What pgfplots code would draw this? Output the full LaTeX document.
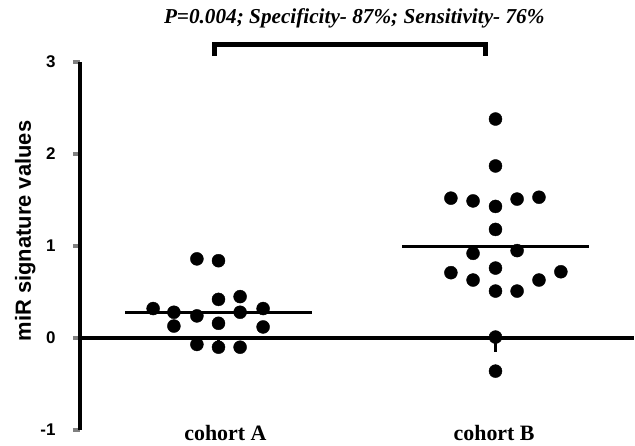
\documentclass[border=0pt]{standalone}
\usepackage{pgfplots}
\pgfplotsset{compat=1.18}
\usepackage{fontspec}
\setmainfont{Liberation Serif}
\setsansfont{Liberation Sans}

\begin{document}
\begin{tikzpicture}
\begin{axis}[
    scale only axis,
    width=554bp, height=368bp,
    xmin=-0.5, xmax=1.5,
    ymin=-1, ymax=3,
    axis x line=none,
    axis y line=left,
    y axis line style={-, line width=4bp},
    ytick={-1,0,1,2,3},
    yticklabels={-1,0,1,2,3},
    tick align=outside,
    major tick length=7bp,
    ytick style={line width=4bp},
    yticklabel style={font=\fontsize{17}{20}\selectfont\sffamily\bfseries, xshift=-14bp},
    ylabel={miR signature values},
    ylabel style={font=\fontsize{22}{24}\selectfont\sffamily\bfseries, yshift=-2bp, xshift=15bp},
    clip=false,
]
% zero line and category ticks
\addplot[line width=4bp] coordinates {(-0.5,0) (1.5,0)};
\addplot[line width=3bp] coordinates {(0,0) (0,-0.15)};
\addplot[line width=3bp] coordinates {(1,0) (1,-0.15)};

% cohort A
\addplot[only marks, mark=*, mark size=6.5bp, black] coordinates {
  (-0.078,0.86) (0,0.84)
  (-0.236,0.32) (-0.161,0.28) (-0.161,0.13) (-0.078,0.24)
  (0,0.42) (0,0.16) (0.078,0.45) (0.078,0.28)
  (0.161,0.32) (0.161,0.12)
  (-0.078,-0.07) (0,-0.10) (0.078,-0.10)
};
% cohort B
\addplot[only marks, mark=*, mark size=6.5bp, black] coordinates {
  (1,2.38) (1,1.87)
  (0.839,1.52) (0.919,1.49) (1,1.43) (1.078,1.51) (1.157,1.53)
  (1,1.18) (0.919,0.92) (1.078,0.95)
  (0.839,0.71) (0.919,0.63) (1,0.76) (1,0.51) (1.078,0.51)
  (1.157,0.63) (1.236,0.72)
  (1,0.01) (1,-0.36)
};
% means
\addplot[line width=3bp] coordinates {(-0.336,0.277) (0.338,0.277)};
\addplot[line width=3bp] coordinates {(0.664,0.995) (1.338,0.995)};

% significance bracket
\addplot[line width=5bp] coordinates {(-0.016,3.065) (-0.016,3.19) (0.964,3.19) (0.964,3.065)};

\node[font=\fontsize{21.3}{24}\selectfont\bfseries\itshape] at (axis cs:0.49,3.48)
  {P=0.004; Specificity- 87\%; Sensitivity- 76\%};
\node[font=\fontsize{22}{24}\selectfont\bfseries] at (axis cs:0.025,-1.03) {cohort A};
\node[font=\fontsize{22}{24}\selectfont\bfseries] at (axis cs:0.995,-1.03) {cohort B};
\end{axis}
\pgfresetboundingbox
\path ([shift={(-80bp,-16bp)}]current axis.south west) rectangle ([shift={(1bp,62bp)}]current axis.north east);
\end{tikzpicture}
\end{document}
